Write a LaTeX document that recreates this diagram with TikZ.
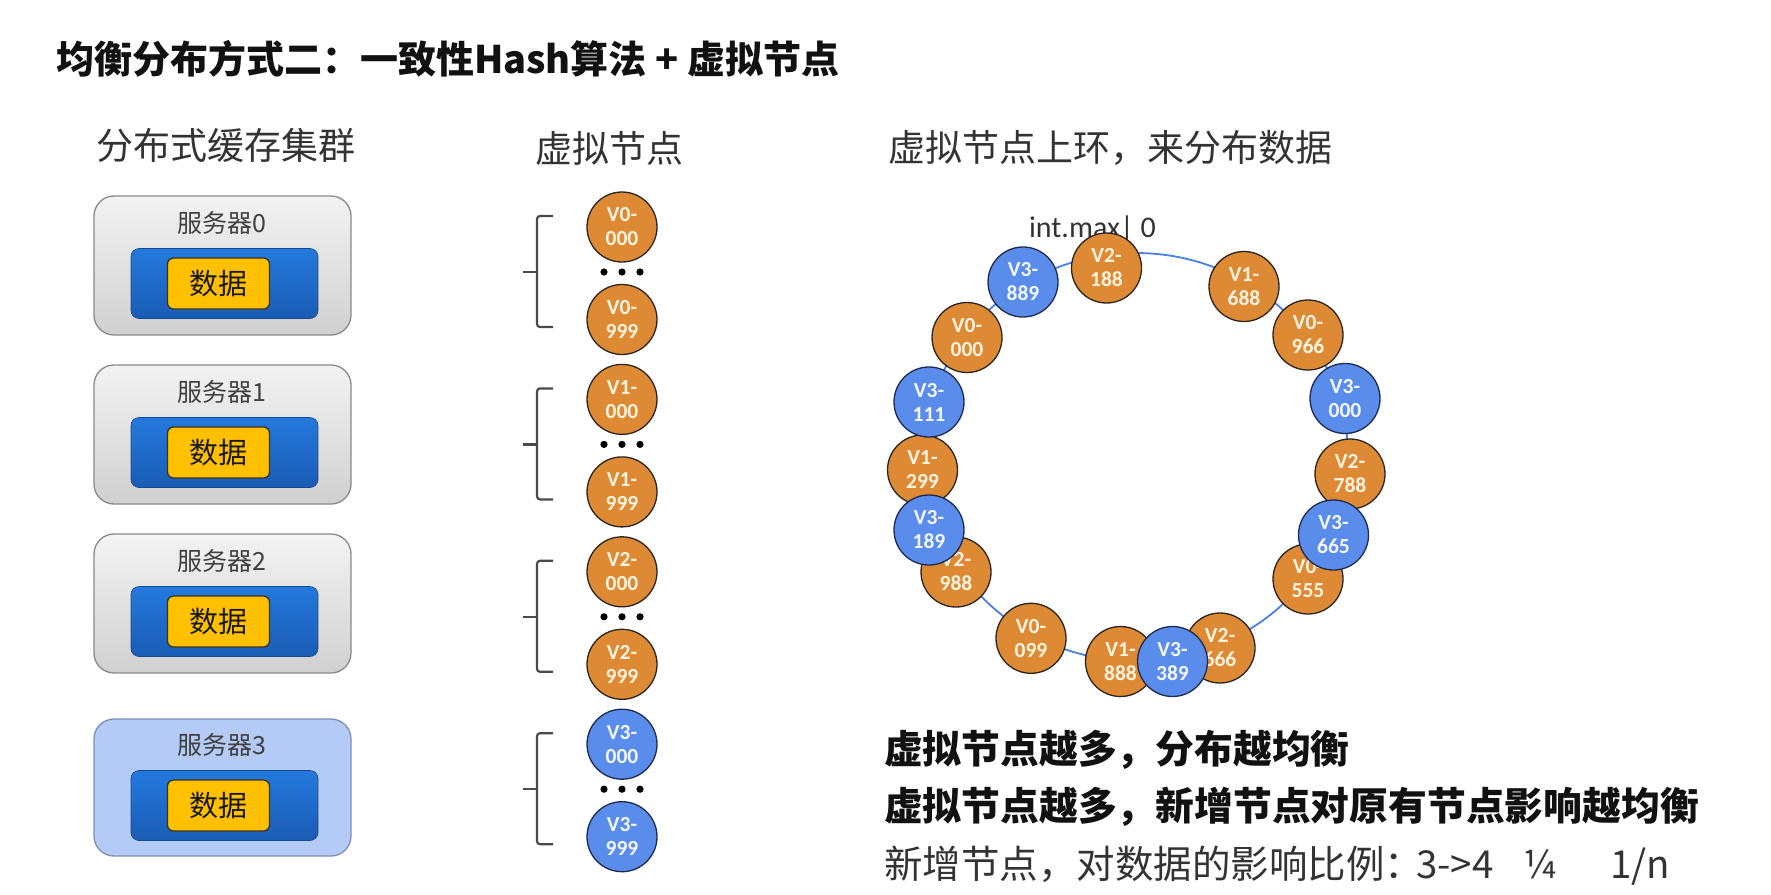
\documentclass[tikz,border=0pt]{standalone}
\usepackage{fontspec}
\setmainfont{Noto Sans CJK SC}
\newfontfamily\numfont{Carlito}
\usetikzlibrary{shadings}

\definecolor{inkdark}{HTML}{111111}
\definecolor{inkgray}{HTML}{333333}
\definecolor{srvtop}{HTML}{F3F3F3}
\definecolor{srvbot}{HTML}{D0D0D0}
\definecolor{srvedge}{HTML}{8A8A8A}
\definecolor{srvnew}{HTML}{B5CBF7}
\definecolor{srvnewedge}{HTML}{7F8FB3}
\definecolor{datatop}{HTML}{2479DE}
\definecolor{databot}{HTML}{1A5CB4}
\definecolor{chip}{HTML}{FFC000}
\definecolor{chipedge}{HTML}{3A3320}
\definecolor{vorange}{HTML}{DE8A35}
\definecolor{vblue}{HTML}{5A8CEB}
\definecolor{vedge}{HTML}{2A2520}
\definecolor{vbedge}{HTML}{1D2B4F}
\definecolor{vtext}{HTML}{FFF3DF}
\definecolor{vbtext}{HTML}{F2F6FF}
\definecolor{ringline}{HTML}{4A80E6}
\definecolor{bracecol}{HTML}{4A4A4A}

\begin{document}
\begin{tikzpicture}[x=1pt,y=-1pt,
  txt/.style={inner sep=0pt, outer sep=0pt},
  titleline/.style={txt, font=\bfseries\fontsize{38}{40}\selectfont, text=inkdark},
  headline/.style={txt, font=\bfseries\fontsize{38.8}{40}\selectfont, text=inkdark},
  section/.style={txt, font=\fontsize{37}{40}\selectfont, text=inkgray},
  plainline/.style={txt, font=\fontsize{38.5}{40}\selectfont, text=inkgray},
  srvbox/.style={draw=srvedge, line width=1.3pt, rounded corners=20pt,
    minimum width=257pt, minimum height=139pt, top color=srvtop, bottom color=srvbot},
  srvnewbox/.style={draw=srvnewedge, line width=1.3pt, rounded corners=20pt,
    minimum width=257pt, minimum height=137pt, fill=srvnew},
  srvlabel/.style={txt, font=\fontsize{25}{26}\selectfont, text=black!75},
  datapanel/.style={rounded corners=8pt, minimum width=187pt, minimum height=70pt,
    top color=datatop, bottom color=databot, draw=databot!80!black, line width=0.6pt},
  datachip/.style={rounded corners=6pt, minimum width=102pt, minimum height=51pt,
    fill=chip, draw=chipedge, line width=1.3pt, inner sep=0pt,
    font=\fontsize{29}{30}\selectfont, text=black!90},
  vnode/.style={circle, minimum size=70pt, inner sep=0pt, line width=1.3pt,
    align=center, font=\numfont\bfseries\fontsize{21.5}{24}\selectfont},
  vor/.style={vnode, fill=vorange, draw=vedge, text=vtext},
  vbl/.style={vnode, fill=vblue, draw=vbedge, text=vbtext},
  brace/.style={draw=bracecol, line width=2.2pt, rounded corners=3pt},
  ring/.style={draw=ringline, line width=1.8pt}
]
\useasboundingbox[fill=white] (0,0) rectangle (1771,894);

% title
\node[titleline, anchor=west] (title) at (56,59) {均衡分布方式二：一致性Hash算法 + 虚拟节点};

% column headers
\node[section] (hcluster) at (225.5,145) {分布式缓存集群};
\node[section] (hvirtual) at (609,148) {虚拟节点};
\node[section] (hring) at (1110.5,148) {虚拟节点上环，来分布数据};

% cache servers
\foreach \i/\t/\st in {0/196/srvbox,1/365/srvbox,2/534/srvbox,3/718/srvnewbox}{
  \node[\st] (srv\i) at (222.5,\t+69.5) {};
  \node[srvlabel] (srvlab\i) at (221.5,\t+27) {服务器\i};
  \node[datapanel] (panel\i) at (224.5,\t+87.5) {};
  \node[datachip] (chip\i) at (218.5,\t+87.5) {数据};
}

% virtual nodes of each server, grouped by a bracket
\foreach \g/\y/\st in {0/227/vor,1/399.4/vor,2/571.8/vor,3/744.2/vbl}{
  \node[\st] (v\g-hi) at (622,\y) {V\g-\\000};
  \node[\st] (v\g-lo) at (622,\y+92.5) {V\g-\\999};
  \foreach \dx in {-18,0,18}
    \fill[black] (622+\dx,\y+45) circle[radius=3.6pt];
  \draw[brace] (553,\y-11) -- (537,\y-11) -- (537,\y+100) -- (553,\y+100);
  \draw[brace] (523,\y+45) -- (537,\y+45);
}

% hash ring
\coordinate (ringc) at (1136,457);
\draw[ring] (ringc) ellipse[x radius=212pt, y radius=204pt];
\node[txt, font=\numfont\fontsize{30}{32}\selectfont, text=inkgray] (imax) at (1092.5,229) {int.max| 0};

% virtual nodes placed on the ring
\foreach \n/\x/\y/\a/\b in {
  o188/1106.5/268/2/188, o688/1244/286.5/1/688, o000/967/337.5/0/000,
  o966/1308/335/0/966, o299/922.5/470/1/299, o788/1350/474/2/788,
  o988/956/572/2/988, o555/1308/579/0/555, o099/1031/638.3/0/099,
  o888/1120.5/661.5/1/888, o666/1220/648/2/666}
  \node[vor] (\n) at (\x,\y) {V\a-\\\b};
\foreach \n/\x/\y/\b in {
  b889/1023/282/889, b111/929/402/111, b000/1345/398.5/000,
  b189/929/530/189, b665/1333.5/535/665, b389/1172.5/661.5/389}
  \node[vbl] (\n) at (\x,\y) {V3-\\\b};

% conclusions
\node[headline, anchor=west] (sum1) at (884,750) {虚拟节点越多，分布越均衡};
\node[headline, anchor=west] (sum2) at (884,806.5) {虚拟节点越多，新增节点对原有节点影响越均衡};
\node[plainline, anchor=west] (sum3) at (884,864) {新增节点，对数据的影响比例：};
\node[plainline, anchor=base west] (ratio) at (sum3.base -| 1416,0) {3->4};
\node[plainline, anchor=base west] (quarter) at (sum3.base -| 1523,0) {¼};
\node[plainline, anchor=base west] (oneovern) at (sum3.base -| 1610,0) {1/n};
\end{tikzpicture}
\end{document}
